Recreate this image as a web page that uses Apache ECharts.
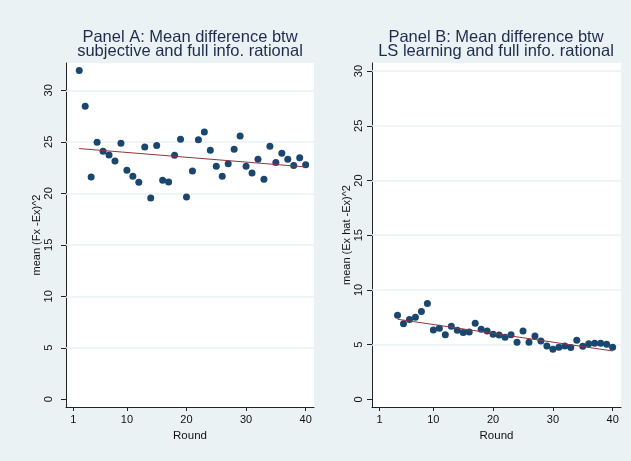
<!DOCTYPE html>
<html>
<head>
<meta charset="utf-8">
<script src="https://cdn.jsdelivr.net/npm/echarts@6/dist/echarts.min.js"></script>
<style>
html,body{margin:0;padding:0;background:#EAF2F3;}
#chart{width:631px;height:461px;}
</style>
</head>
<body>
<div id="chart"></div>
<script>
// ---- data ----
const roundsA = [2,3,4,5,6,7,8,9,10,11,12,13,14,15,16,17,18,19,20,21,22,23,24,25,26,27,28,29,30,31,32,33,34,35,36,37,38,39,40];
const valuesA = [31.91,28.45,21.59,24.95,24.08,23.72,23.14,24.85,22.23,21.65,21.07,24.50,19.55,24.63,21.26,21.10,23.69,25.24,19.64,22.17,25.21,25.95,24.17,22.62,21.65,22.88,24.27,25.57,22.62,21.97,23.30,21.36,24.56,22.98,23.88,23.30,22.69,23.46,22.78];
const fitRoundsA = [2, 40];
const fitValuesA = [24.34, 22.56];

const roundsB = [4,5,6,7,8,9,10,11,12,13,14,15,16,17,18,19,20,21,22,23,24,25,26,27,28,29,30,31,32,33,34,35,36,37,38,39,40];
const valuesB = [7.68,6.92,7.29,7.50,8.02,8.75,6.34,6.49,5.91,6.68,6.31,6.10,6.16,6.95,6.40,6.25,5.95,5.88,5.67,5.91,5.21,6.25,5.21,5.79,5.34,4.88,4.57,4.76,4.88,4.73,5.40,4.85,5.09,5.12,5.12,5.03,4.76];
const fitRoundsB = [4, 40];
const fitValuesB = [7.32, 4.42];

const xTicks = [1, 10, 20, 30, 40];
const yTicks = [0, 5, 10, 15, 20, 25, 30];

const titleA = 'Panel A: Mean difference btw\nsubjective and full info. rational';
const titleB = 'Panel B: Mean difference btw\nLS learning and full info. rational';
const yNameA = 'mean (Fx -Ex)^2';
const yNameB = 'mean (Ex hat -Ex)^2';
const xName = 'Round';

// ---- styling ----
const BG = '#EAF2F3';
const NAVY = '#1A476F';
const MAROON = '#90353B';
const AXIS = '#222';
const FONT = '"Liberation Sans", Arial, Helvetica, sans-serif';

function zip(xs, ys){ return xs.map((x,i)=>[x, ys[i]]); }

function xAxisCfg(idx, min, max){
  return {
    type:'value', gridIndex:idx, min:min, max:max,
    axisLine:{show:true, onZero:false, lineStyle:{color:AXIS, width:1}},
    axisTick:{show:true, length:4, customValues:xTicks, lineStyle:{color:AXIS}},
    axisLabel:{customValues:xTicks, margin:7, fontSize:11, color:'#111', fontFamily:FONT},
    splitLine:{show:false},
    name:xName, nameLocation:'middle', nameGap:18,
    nameTextStyle:{fontSize:11.5, color:'#111', fontFamily:FONT}
  };
}
function yAxisCfg(idx, min, max, name, labelMargin, nameGap){
  return {
    type:'value', gridIndex:idx, min:min, max:max,
    axisLine:{show:true, onZero:false, lineStyle:{color:AXIS, width:1}},
    axisTick:{show:true, length:5, customValues:yTicks, lineStyle:{color:AXIS}},
    axisLabel:{customValues:yTicks, rotate:90, margin:labelMargin, fontSize:11, color:'#111', fontFamily:FONT},
    splitLine:{show:false},
    name:name, nameLocation:'middle', nameGap:nameGap, nameRotate:90,
    nameTextStyle:{fontSize:11, color:'#111', fontFamily:FONT}
  };
}
function gridLines(idx){
  return {
    type:'line', xAxisIndex:idx, yAxisIndex:idx, data:[], z:1, zlevel:0, silent:true,
    markLine:{
      silent:true, symbol:'none', animation:false, z:1,
      label:{show:false},
      lineStyle:{color:BG, width:1.5, type:'solid'},
      data: yTicks.filter(v=>v>0).map(v=>({yAxis:v}))
    }
  };
}

const chart = echarts.init(document.getElementById('chart'), null, {renderer:'canvas'});
chart.setOption({
  backgroundColor: BG,
  animation:false,
  textStyle:{fontFamily:FONT},
  grid:[
    {left:66, top:63, width:248, height:344, show:true, backgroundColor:'#fff', borderWidth:0},
    {left:372, top:63, width:249, height:344, show:true, backgroundColor:'#fff', borderWidth:0}
  ],
  xAxis:[ xAxisCfg(0, -0.22, 41.4), xAxisCfg(1, -0.27, 41.4) ],
  yAxis:[ yAxisCfg(0, -0.75, 32.65, yNameA, 11.5, 20.5), yAxisCfg(1, -0.7, 30.74, yNameB, 7.5, 19) ],
  graphic:[
    {type:'text', x:190, y:44.5, style:{text:titleA, font:'16.5px '+FONT, fill:'#1E2B4D', textAlign:'center', textVerticalAlign:'middle', lineHeight:14.5}},
    {type:'text', x:496, y:44.5, style:{text:titleB, font:'16.5px '+FONT, fill:'#1E2B4D', textAlign:'center', textVerticalAlign:'middle', lineHeight:14.5}}
  ],
  series:[
    gridLines(0), gridLines(1),
    {type:'scatter', xAxisIndex:0, yAxisIndex:0, data:zip(roundsA, valuesA), symbol:'circle', symbolSize:7, itemStyle:{color:NAVY, opacity:1}, z:10},
    {type:'line', xAxisIndex:0, yAxisIndex:0, data:zip(fitRoundsA, fitValuesA), symbol:'none', lineStyle:{color:MAROON, width:1}, z:11},
    {type:'scatter', xAxisIndex:1, yAxisIndex:1, data:zip(roundsB, valuesB), symbol:'circle', symbolSize:7, itemStyle:{color:NAVY, opacity:1}, z:10},
    {type:'line', xAxisIndex:1, yAxisIndex:1, data:zip(fitRoundsB, fitValuesB), symbol:'none', lineStyle:{color:MAROON, width:1}, z:11}
  ]
});
</script>
</body>
</html>
